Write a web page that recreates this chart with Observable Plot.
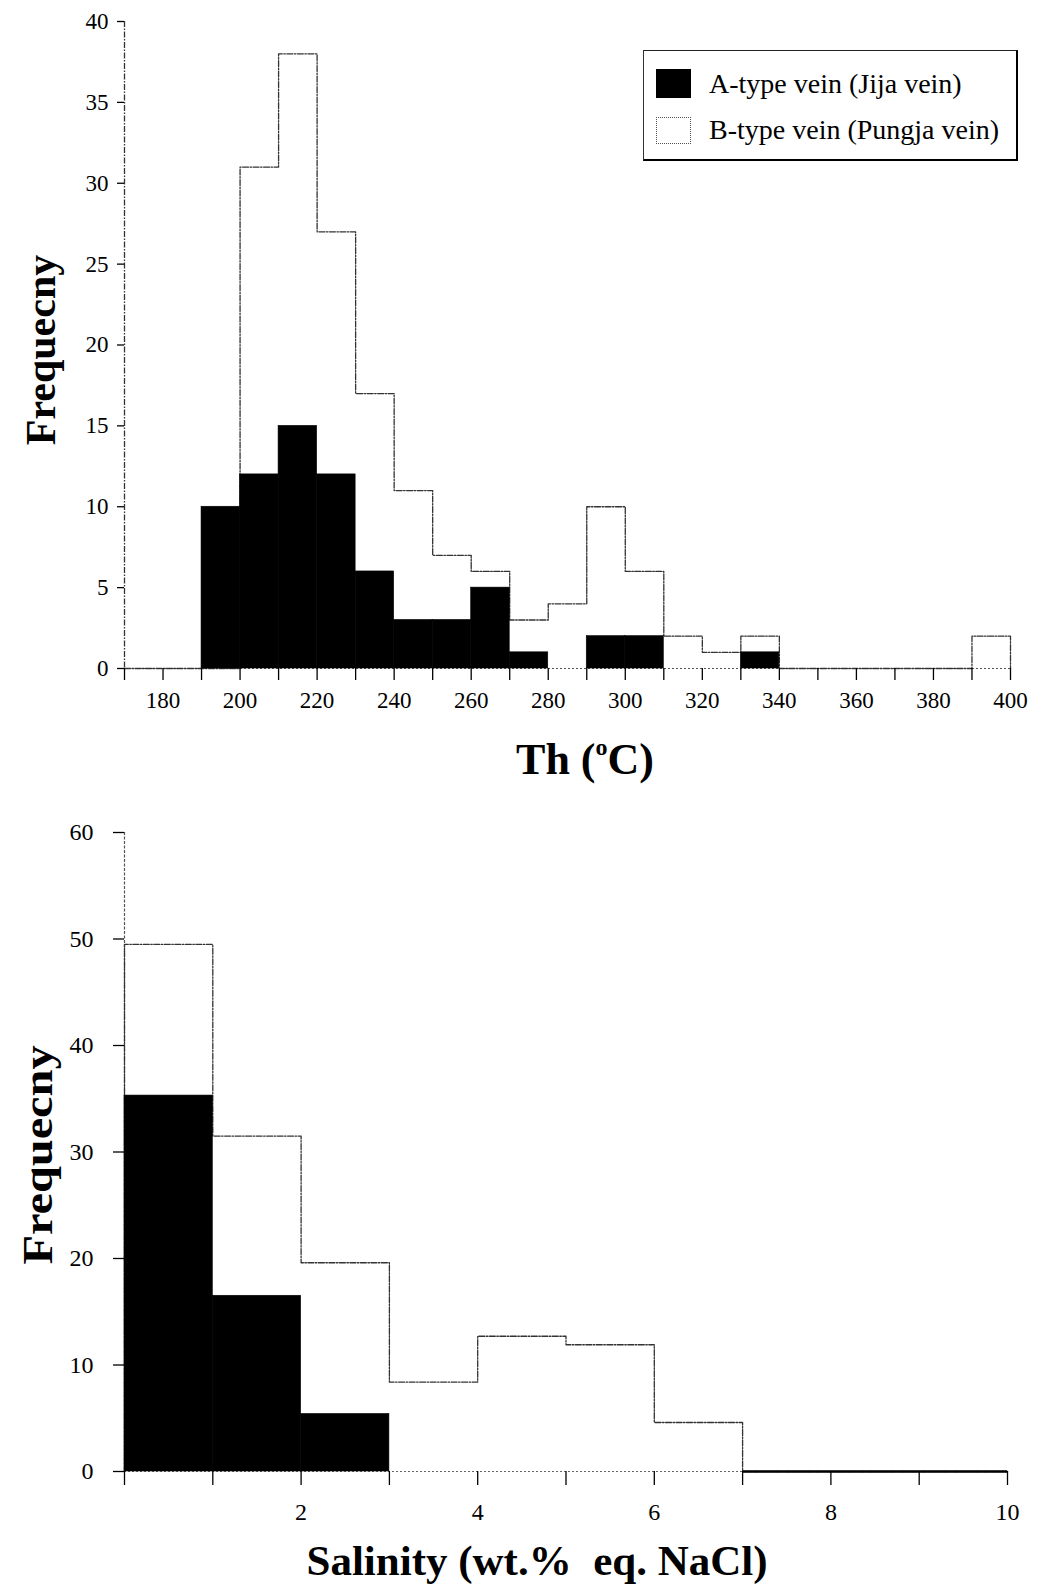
<!DOCTYPE html>
<html>
<head>
<meta charset="utf-8">
<script src="https://cdn.jsdelivr.net/npm/d3@7"></script>
<script src="https://cdn.jsdelivr.net/npm/@observablehq/plot@0.6"></script>
<style>
  body { margin: 0; background: #fff; }
  #page { position: relative; width: 1047px; height: 1590px; overflow: hidden;
          font-family: "Liberation Serif", "Times New Roman", serif; color: #000; }
  .abs { position: absolute; line-height: 1; white-space: nowrap; }
  svg { position: absolute; left: 0; }
  svg text { font-family: "Liberation Serif", "Times New Roman", serif !important; }
</style>
</head>
<body>
<div id="page"></div>
<script>
// ---------- Homogenization temperature (Th) histogram ----------
const thBinStart = [170, 180, 190, 200, 210, 220, 230, 240, 250, 260, 270, 280,
                    290, 300, 310, 320, 330, 340, 350, 360, 370, 380, 390];
const thBinWidth = 10;
const thTypeA = [0, 0, 10, 12, 15, 12, 6, 3, 3, 5, 1, 0,
                 2, 2, 0, 0, 1, 0, 0, 0, 0, 0, 0];
const thTypeB = [0, 0, 0, 31, 38, 27, 17, 11, 7, 6, 3, 4,
                 10, 6, 2, 1, 2, 0, 0, 0, 0, 0, 2];
const thDomain = [170, 400];
const thTickMarks = [170, 180, 190, 200, 210, 220, 230, 240, 250, 260, 270, 280,
                     290, 300, 310, 320, 330, 340, 350, 360, 370, 380, 390, 400];
const thTickLabels = [180, 200, 220, 240, 260, 280, 300, 320, 340, 360, 380, 400];
const thYTicks = [0, 5, 10, 15, 20, 25, 30, 35, 40];

// ---------- Salinity histogram ----------
const salBinStart = [0, 1, 2, 3, 4, 5, 6, 7, 8, 9];
const salBinWidth = 1;
const salTypeA = [35.3, 16.5, 5.4, 0, 0, 0, 0, 0, 0, 0];
const salTypeB = [49.5, 31.5, 19.6, 8.4, 12.7, 11.9, 4.6, 0, 0, 0];
const salDomain = [0, 10];
const salTickMarks = [0, 1, 2, 3, 4, 5, 6, 7, 8, 9, 10];
const salTickLabels = [2, 4, 6, 8, 10];
const salYTicks = [0, 10, 20, 30, 40, 50, 60];

const legendLabels = ["A-type vein (Jija vein)", "B-type vein (Pungja vein)"];

// ---------- helpers ----------
function bars(starts, w, vals) {
  return starts.map((x0, i) => ({x1: x0, x2: x0 + w, y: vals[i]}));
}
function outline(starts, w, vals) {
  const pts = [{x: starts[0], y: 0}];
  starts.forEach((x0, i) => pts.push({x: x0, y: vals[i]}));
  const lastX = starts[starts.length - 1] + w;
  pts.push({x: lastX, y: vals[vals.length - 1]});
  pts.push({x: lastX, y: 0});
  return pts;
}

const SERIF = "Liberation Serif";
const outlineStyle = {stroke: "#333", strokeWidth: 1.3, strokeDasharray: "6,1.5,1.5,1.5"};
const baseStyle = {fontFamily: SERIF, fontSize: "23px",
                   color: "#000", background: "transparent", overflow: "visible"};

const page = document.getElementById("page");

// ---------- top chart ----------
const topPlot = Plot.plot({
  width: 1047, height: 730,
  marginLeft: 124, marginRight: 37, marginTop: 21, marginBottom: 62,
  style: baseStyle,
  x: {domain: thDomain},
  y: {domain: [0, 40]},
  marks: [
    Plot.ruleY([0], {stroke: "#555", strokeDasharray: "2,2"}),
    Plot.line(outline(thBinStart, thBinWidth, thTypeB), {x: "x", y: "y", curve: "step-after", ...outlineStyle}),
    Plot.rectY(bars(thBinStart, thBinWidth, thTypeA).filter(d => d.y > 0),
               {x1: "x1", x2: "x2", y: "y", fill: "#000", stroke: "#000", strokeWidth: 0.6}),
    Plot.ruleX([thDomain[0]], {stroke: "#333", strokeWidth: 1.3, strokeDasharray: "6,1.5,1.5,1.5"}),
    Plot.axisY({ticks: thYTicks, tickSize: 7, tickPadding: 9, label: null, strokeWidth: 1.3,
                fontFamily: SERIF, fontSize: 23}),
    Plot.axisX({ticks: thTickMarks, tickSize: 12, tickFormat: () => "", label: null, strokeWidth: 1.3}),
    Plot.axisX({ticks: thTickLabels, tickSize: 0, tickPadding: 23, label: null,
                fontFamily: SERIF, fontSize: 23})
  ]
});
topPlot.style.top = "0px";
page.appendChild(topPlot);

// ---------- bottom chart ----------
const lastB = salTypeB.reduce((acc, v, i) => (v > 0 ? i : acc), 0);
const solidAxis = [{x1: salBinStart[lastB] + salBinWidth, x2: salDomain[1], y: 0}];

const botPlot = Plot.plot({
  width: 1047, height: 800,
  marginLeft: 124, marginRight: 40, marginTop: 42, marginBottom: 119,
  style: baseStyle,
  x: {domain: salDomain},
  y: {domain: [0, 60]},
  marks: [
    Plot.ruleY([0], {stroke: "#666", strokeDasharray: "2,2"}),
    Plot.ruleX([salDomain[0]], {stroke: "#555", strokeWidth: 1.2, strokeDasharray: "3,1.5"}),
    Plot.line(outline(salBinStart, salBinWidth, salTypeB), {x: "x", y: "y", curve: "step-after", ...outlineStyle}),
    Plot.rectY(bars(salBinStart, salBinWidth, salTypeA).filter(d => d.y > 0),
               {x1: "x1", x2: "x2", y: "y", fill: "#000", stroke: "#000", strokeWidth: 0.6}),
    Plot.ruleY(solidAxis, {x1: "x1", x2: "x2", y: "y", stroke: "#000", strokeWidth: 2.5}),
    Plot.axisY({ticks: salYTicks, tickSize: 11, tickPadding: 20, label: null, strokeWidth: 1.3,
                fontFamily: SERIF, fontSize: 24}),
    Plot.axisX({ticks: salTickMarks, tickSize: 14, tickFormat: () => "", label: null, strokeWidth: 1.3}),
    Plot.axisX({ticks: salTickLabels, tickSize: 0, tickPadding: 31, label: null,
                fontFamily: SERIF, fontSize: 24})
  ]
});
botPlot.style.top = "790px";
page.appendChild(botPlot);

// ---------- titles ----------
function addDiv(html, css) {
  const d = document.createElement("div");
  d.className = "abs";
  d.innerHTML = html;
  Object.assign(d.style, css);
  page.appendChild(d);
  return d;
}
addDiv("Frequecny", {left: "41px", top: "350px", fontSize: "42px", fontWeight: "bold",
  transform: "translate(-50%,-50%) rotate(-90deg)"});
addDiv("Frequecny", {left: "38px", top: "1155px", fontSize: "42px", fontWeight: "bold",
  transform: "translate(-50%,-50%) rotate(-90deg) scale(1.15,1)"});
addDiv('Th (<span style="font-size:24px;position:relative;top:-19px">o</span>C)',
  {left: "585px", top: "738px", fontSize: "44px", fontWeight: "bold", transform: "translateX(-50%)"});
addDiv("Salinity (wt.%&nbsp; eq. NaCl)",
  {left: "537px", top: "1539px", fontSize: "43px", fontWeight: "bold", transform: "translateX(-50%)"});

// ---------- legend ----------
addDiv("", {left: "643px", top: "50px", width: "375px", height: "111px", boxSizing: "border-box",
  borderTop: "1.5px solid #222", borderLeft: "1.5px solid #333",
  borderRight: "2.5px solid #000", borderBottom: "2.5px solid #000", background: "#fff"});
addDiv("", {left: "656px", top: "69px", width: "35px", height: "29px", background: "#000"});
addDiv("", {left: "656px", top: "117px", width: "35px", height: "27px", boxSizing: "border-box",
  border: "1.3px dotted #555"});
addDiv(legendLabels[0], {left: "709px", top: "70px", fontSize: "28px"});
addDiv(legendLabels[1], {left: "709px", top: "116px", fontSize: "28px"});
</script>
</body>
</html>
